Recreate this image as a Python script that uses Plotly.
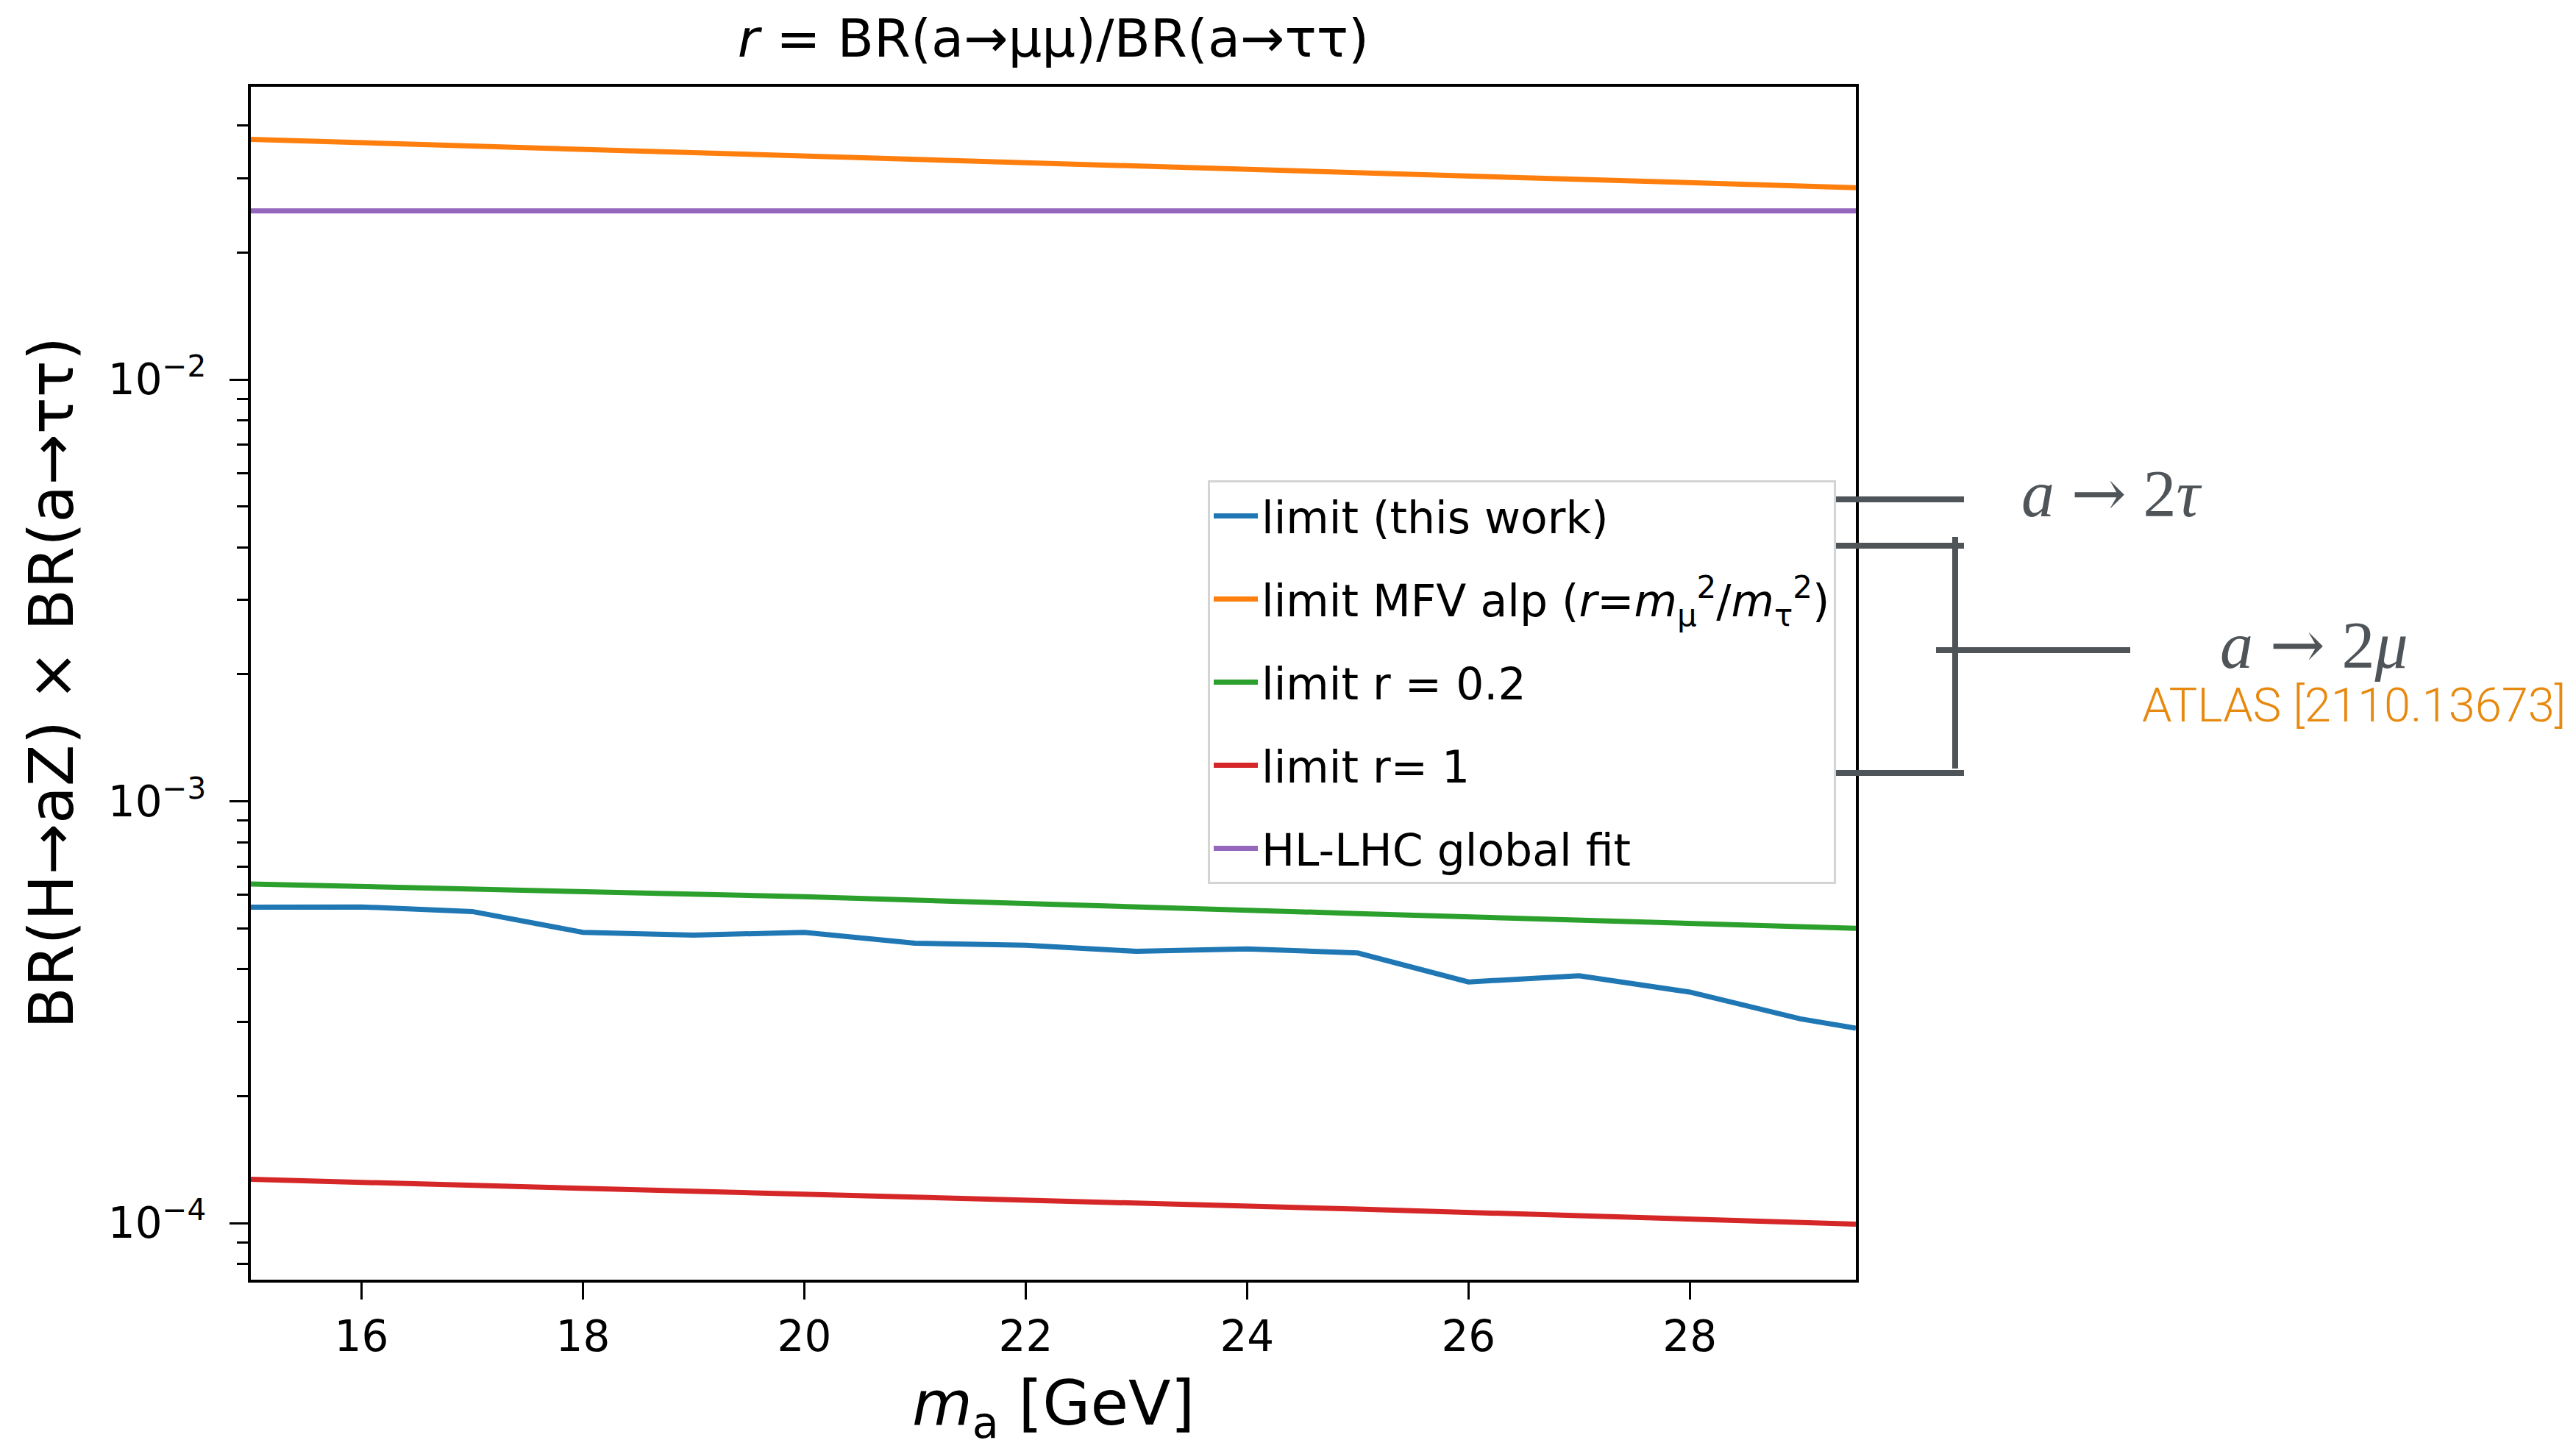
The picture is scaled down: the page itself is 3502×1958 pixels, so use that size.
import plotly.graph_objects as go

# ---- data ----
ma_this = [15, 16, 17, 18, 19, 20, 21, 22, 23, 24, 25, 26, 27, 28, 29, 29.5]
lim_this = [5.61e-4, 5.62e-4, 5.48e-4, 4.89e-4, 4.82e-4, 4.89e-4, 4.61e-4, 4.56e-4,
            4.41e-4, 4.47e-4, 4.37e-4, 3.73e-4, 3.86e-4, 3.53e-4, 3.05e-4, 2.90e-4]

ma_mfv = [15, 22, 29.5]
lim_mfv = [0.0371, 0.0326, 0.0285]

ma_r02 = [15, 20, 25, 29.5]
lim_r02 = [6.37e-4, 5.94e-4, 5.42e-4, 5.00e-4]

ma_r1 = [15, 20, 25, 29.5]
lim_r1 = [1.27e-4, 1.17e-4, 1.08e-4, 9.95e-5]

ma_hl = [15, 29.5]
lim_hl = [0.0251, 0.0251]

x_ticks = [16, 18, 20, 22, 24, 26, 28]
y_ticks = [1e-4, 1e-3, 1e-2]
y_tick_text = ["10<sup>−4</sup>", "10<sup>−3</sup>", "10<sup>−2</sup>"]

names = [
    "limit (this work)",
    "limit MFV alp (<i>r</i>=<i>m</i><sub>μ</sub><sup>2</sup>/<i>m</i><sub>τ</sub><sup>2</sup>)",
    "limit r = 0.2",
    "limit r= 1",
    "HL-LHC global fit",
]
colors = ["#1f77b4", "#ff7f0e", "#2ca02c", "#d62728", "#9467bd"]

W, H = 3502, 1958
FONT = "DejaVu Sans"

# plot area in pixels
L, R, T, B = 333, 2515, 110, 1732
PW, PH = R - L, B - T

fig = go.Figure()
series = [(ma_this, lim_this), (ma_mfv, lim_mfv), (ma_r02, lim_r02), (ma_r1, lim_r1), (ma_hl, lim_hl)]
for i, ((xs, ys), nm, c) in enumerate(zip(series, names, colors)):
    fig.add_trace(go.Scatter(x=xs, y=ys, mode="lines", name=nm,
                             line=dict(color=c, width=7), legendgroup=f"g{i}"))

minor_vals = []
for e in (-5, -4, -3, -2):
    for d in range(2, 10):
        minor_vals.append(d * 10.0 ** e)

fig.update_layout(
    width=W, height=H,
    margin=dict(l=L, r=W - R, t=T, b=H - B),
    paper_bgcolor="white", plot_bgcolor="white",
    font=dict(family=FONT, size=58, color="black"),
    title=dict(text="<i>r</i> = BR(a→μμ)/BR(a→ττ)", x=0.5, xref="paper", xanchor="center",
               y=1 - 44 / H, yref="container", yanchor="middle",
               font=dict(family=FONT, size=72, color="black")),
    showlegend=True,
    legend=dict(x=(1634 - L) / PW, y=(B - 645) / PH, xanchor="left", yanchor="top",
                bgcolor="white", bordercolor="#d4d4d4", borderwidth=3,
                font=dict(family=FONT, size=60, color="black"),
                tracegroupgap=32, traceorder="grouped", itemwidth=60, valign="middle"),
    xaxis=dict(range=[15, 29.5], tickvals=x_ticks, ticks="outside", ticklen=23, tickwidth=3,
               tickcolor="black", showline=True, linewidth=4, linecolor="black", mirror=True,
               showgrid=False, zeroline=False, ticklabelstandoff=0,
               tickfont=dict(family=FONT, size=58, color="black")),
    yaxis=dict(type="log", range=[-4.134, -1.306], tickvals=y_ticks, ticktext=y_tick_text,
               ticks="outside", ticklen=25, tickwidth=3, tickcolor="black",
               showline=True, linewidth=4, linecolor="black", mirror=True,
               showgrid=False, zeroline=False, ticklabelstandoff=20,
               tickfont=dict(family=FONT, size=58, color="black"),
               minor=dict(tickvals=minor_vals, ticks="outside", ticklen=15, tickwidth=2.5,
                          tickcolor="black", showgrid=False)),
)


def px(xf):
    return (xf - L) / PW


def py(yf):
    return (B - yf) / PH


# axis titles
fig.add_annotation(text="<i>m</i><sub>a</sub> [GeV]", x=0.5, y=py(1906), xref="paper", yref="paper",
                   xanchor="center", yanchor="middle", showarrow=False,
                   font=dict(family=FONT, size=84, color="black"))
fig.add_annotation(text="BR(H→aZ) × BR(a→ττ)", x=px(62), y=0.5, xref="paper", yref="paper",
                   xanchor="center", yanchor="middle", textangle=-90, showarrow=False,
                   font=dict(family=FONT, size=83, color="black"))

# hand-drawn sketch annotations on the right (positions in reference pixels)
sketch = "#4f5459"
for (x0, y0, x1, y1) in [(2401, 671, 2662, 671), (2401, 734, 2662, 734), (2401, 1043, 2662, 1043),
                         (2650, 722, 2650, 1037), (2624, 876, 2888, 876)]:
    fig.add_shape(type="line", xref="paper", yref="paper", x0=px(x0), y0=py(y0), x1=px(x1), y1=py(y1),
                  line=dict(color=sketch, width=8), layer="above")

arrow = "<span style='font-family:DejaVu Serif'>→</span>"
fig.add_annotation(text="<i>a</i> " + arrow + " 2<i>τ</i>", x=px(2862), y=py(662), xref="paper", yref="paper",
                   xanchor="center", yanchor="middle", showarrow=False,
                   font=dict(family="Liberation Serif", size=90, color=sketch))
fig.add_annotation(text="<i>a</i> " + arrow + " 2<i>μ</i>", x=px(3138), y=py(868), xref="paper", yref="paper",
                   xanchor="center", yanchor="middle", showarrow=False,
                   font=dict(family="Liberation Serif", size=90, color=sketch))
fig.add_annotation(text="ATLAS [2110.13673]", x=px(3192), y=py(951), xref="paper", yref="paper",
                   xanchor="center", yanchor="middle", showarrow=False,
                   font=dict(family="Roboto", size=65, color="#e8890f", weight=300))

fig.write_html("out.html")
